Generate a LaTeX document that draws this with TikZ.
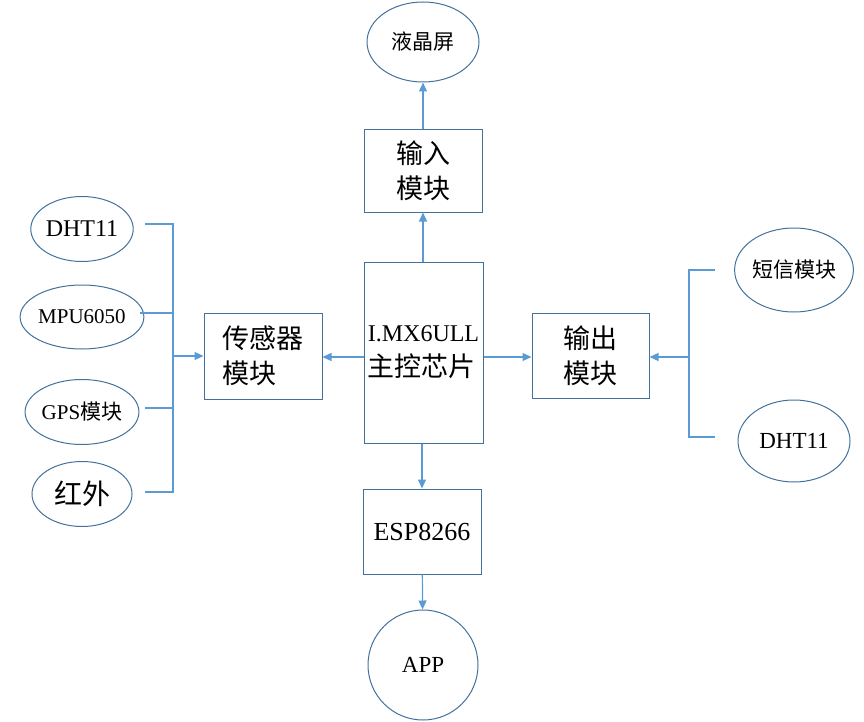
\documentclass[tikz,border=0pt]{standalone}
\usepackage{fontspec}
\setmainfont{Liberation Serif}
\newfontfamily\cjk{Noto Sans CJK SC}
\usetikzlibrary{arrows.meta, shapes.geometric}
\definecolor{edgeblue}{RGB}{65,113,156}
\definecolor{lineblue}{RGB}{91,155,213}

\begin{document}
\begin{tikzpicture}[x=1pt, y=-1pt,
  blk/.style={draw=edgeblue, line width=1pt, align=left, inner sep=0pt,
    font=\fontsize{27}{35}\selectfont\cjk},
  ell/.style={draw=edgeblue, line width=1pt, ellipse, inner sep=0pt,
    font=\fontsize{21}{24}\selectfont},
  wire/.style={draw=lineblue, line width=1.2pt},
  arr/.style={wire, -{Triangle[length=9pt, width=8pt]}}]
  \useasboundingbox (0,0) rectangle (864,722);

  % centre column
  \node[ell, minimum width=112, minimum height=80] (lcd) at (423,42) {\cjk 液晶屏};
  \node[blk, minimum width=118, minimum height=82] (inp) at (423,171) {输入\\模块};
  \node[blk, minimum width=119, minimum height=181] (mcu) at (423.5,352.5)
    {{\rmfamily\fontsize{24}{35}\selectfont I.MX6ULL}\\主控芯片};
  \node[blk, minimum width=118, minimum height=85] (esp) at (422,531.5)
    {\rmfamily\fontsize{26}{30}\selectfont ESP8266};
  \node[ell, circle, minimum size=110, font=\fontsize{23}{26}\selectfont] (app) at (423,665) {APP};

  % side boxes
  \node[blk, minimum width=118, minimum height=86] (sens) at (263,356) {传感器\\模块};
  \node[blk, minimum width=117, minimum height=85] (outp) at (590.5,355.5) {输出\\模块};

  % sensors on the left
  \node[ell, minimum width=100, minimum height=65, font=\fontsize{24}{26}\selectfont] (dhtl) at (82,229) {DHT11};
  \node[ell, minimum width=100, minimum height=64] (mpu) at (82,317) {MPU6050};
  \node[ell, minimum width=100, minimum height=65] (gps) at (82,412) {GPS{\cjk 模块}};
  \node[ell, minimum width=100, minimum height=65, font=\fontsize{28}{30}\selectfont] (ir) at (82,494) {\cjk 红外};

  % outputs on the right
  \node[ell, minimum width=112, minimum height=84] (sms) at (794,270) {\cjk 短信模块};
  \node[ell, minimum width=112, minimum height=82, font=\fontsize{23}{26}\selectfont] (dhtr) at (794,441) {DHT11};

  % left bus
  \foreach \n/\x/\y in {1/145/224, 2/140/313, 3/145/408, 4/145/492}
    \coordinate (t\n) at (\x,\y);
  \coordinate (bl) at (173,356);
  \draw[wire] (t1) -| (bl);
  \draw[wire] (t4) -| (bl);
  \draw[wire] (t2) -- (t2 -| bl);
  \draw[wire] (t3) -- (t3 -| bl);
  \draw[arr] (bl) -- (sens.west |- bl);

  % right bus
  \coordinate (s1) at (715,270);
  \coordinate (s2) at (715,437);
  \coordinate (br) at (689,357);
  \draw[wire] (s1) -| (br);
  \draw[wire] (s2) -| (br);
  \draw[arr] (br) -- (outp.east |- br);

  \draw[arr] (mcu.west |- br) -- (sens.east |- br);
  \draw[arr] (mcu.east |- br) -- (outp.west |- br);
  \draw[arr] (mcu.north -| inp) -- (inp.south);
  \draw[arr] (inp) -- (lcd);
  \draw[arr] (mcu.south -| esp) -- (esp.north);
  \draw[arr] (esp) -- (app);
\end{tikzpicture}
\end{document}
